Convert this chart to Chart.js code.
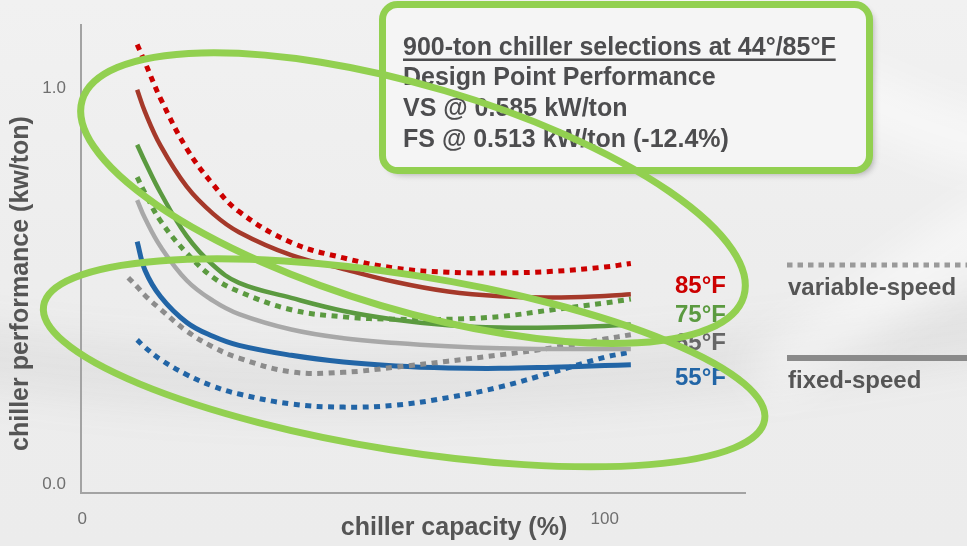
<!DOCTYPE html>
<html><head><meta charset="utf-8">
<script src="https://cdn.jsdelivr.net/npm/chart.js@4.4.1/dist/chart.umd.min.js"></script>
<style>html,body{margin:0;padding:0;background:#eeeeee;}canvas{display:block}</style>
</head><body>
<canvas id="c" width="967" height="546"></canvas>
<script>
// ---------- data ----------
const capacityPct     = [10.5, 12, 15, 20, 25, 30, 40, 50, 60, 70, 80, 90, 100, 105];
const capacityPct65VS = [8.8, 10.5, 12, 15, 20, 25, 30, 40, 50, 60, 70, 80, 90, 100, 105];

const vs85 = [1.111, 1.066, 0.974, 0.848, 0.758, 0.689, 0.611, 0.572, 0.546, 0.536, 0.534, 0.538, 0.549, 0.558];
const fs85 = [0.997, 0.941, 0.855, 0.752, 0.684, 0.637, 0.579, 0.544, 0.511, 0.487, 0.475, 0.472, 0.476, 0.480];
const vs75 = [0.776, 0.736, 0.665, 0.584, 0.523, 0.487, 0.441, 0.423, 0.417, 0.417, 0.424, 0.441, 0.458, 0.468];
const fs75 = [0.858, 0.815, 0.736, 0.627, 0.554, 0.509, 0.471, 0.438, 0.416, 0.402, 0.396, 0.396, 0.400, 0.404];
const vs65 = [0.522, 0.499, 0.477, 0.442, 0.387, 0.347, 0.319, 0.284, 0.283, 0.296, 0.311, 0.327, 0.345, 0.367, 0.378];
const fs65 = [0.718, 0.672, 0.600, 0.515, 0.464, 0.430, 0.391, 0.369, 0.357, 0.349, 0.344, 0.342, 0.342, 0.342];
const vs55 = [0.365, 0.346, 0.315, 0.277, 0.248, 0.228, 0.203, 0.195, 0.200, 0.219, 0.246, 0.283, 0.321, 0.334];
const fs55 = [0.613, 0.541, 0.474, 0.409, 0.374, 0.351, 0.326, 0.309, 0.299, 0.294, 0.293, 0.296, 0.300, 0.302];

const xTickValues = [0, 100];
const yTickValues = [0, 1];
const tempLabels = ['85°F', '75°F', '65°F', '55°F'];
const legendLabels = ['variable-speed', 'fixed-speed'];
const boxLines = ['900-ton chiller selections at 44°/85°F', 'Design Point Performance', 'VS @ 0.585 kW/ton', 'FS @ 0.513 kW/ton (-12.4%)'];
const xTitle = 'chiller capacity (%)';
const yTitle = 'chiller performance (kw/ton)';

// ---------- styles ----------
const FONT = '"Liberation Sans", Arial, Helvetica, sans-serif';
const C = {
  red: '#cc0000', brick: '#a5392a', green: '#5b9a40', graySolid: '#a8a8a8', grayDot: '#8c8c8c', blue: '#2265a6',
  hilite: '#92d050', text: '#4d4d4f', axis: '#a3a3a3', tick: '#6f6f6f'
};
const pts = (xs, ys) => ys.map((v, i) => ({x: xs[i], y: v}));
const dotted = (data, color) => ({data, borderColor: color, borderWidth: 5, borderDash: [6, 5.5], borderCapStyle: 'butt', pointRadius: 0, fill: false, tension: 0.4});
const solid = (data, color, w) => ({data, borderColor: color, borderWidth: w || 4.5, pointRadius: 0, fill: false, tension: 0.4});

// annotation geometry (centres in data units, radii in px)
const ellipses = [
  {cx: 63.3, cy: 0.723, a: 345, b: 112, rot: 16.5},
  {cx: 61.6, cy: 0.307, a: 365, b: 88, rot: 9}
];

const bgPlugin = {
  id: 'bg',
  beforeDraw(chart) {
    const {ctx, width, height} = chart;
    ctx.save();
    const g = ctx.createLinearGradient(0, 0, 0, height);
    g.addColorStop(0, '#f1f1f1'); g.addColorStop(0.5, '#ededed'); g.addColorStop(1, '#ececec');
    ctx.fillStyle = g; ctx.fillRect(0, 0, width, height);
    ctx.filter = 'blur(22px)';
    ctx.strokeStyle = 'rgba(110,110,110,0.10)'; ctx.lineWidth = 45;
    ctx.beginPath(); ctx.moveTo(-60, 350); ctx.quadraticCurveTo(420, 430, 1030, 320); ctx.stroke();
    ctx.strokeStyle = 'rgba(255,255,255,0.55)'; ctx.lineWidth = 50;
    ctx.beginPath(); ctx.moveTo(640, -30); ctx.quadraticCurveTo(860, 120, 1010, 150); ctx.stroke();
    ctx.beginPath(); ctx.moveTo(760, 380); ctx.quadraticCurveTo(880, 300, 1010, 210); ctx.stroke();
    ctx.filter = 'none';
    ctx.restore();
  }
};

function roundRect(ctx, x, y, w, h, r) {
  ctx.beginPath();
  ctx.moveTo(x + r, y); ctx.lineTo(x + w - r, y); ctx.arcTo(x + w, y, x + w, y + r, r);
  ctx.lineTo(x + w, y + h - r); ctx.arcTo(x + w, y + h, x + w - r, y + h, r);
  ctx.lineTo(x + r, y + h); ctx.arcTo(x, y + h, x, y + h - r, r);
  ctx.lineTo(x, y + r); ctx.arcTo(x, y, x + r, y, r); ctx.closePath();
}

const overlayPlugin = {
  id: 'overlay',
  afterDraw(chart) {
    const {ctx} = chart;
    const xs = chart.scales.x, ys = chart.scales.y;
    ctx.save();
    // info box
    roundRect(ctx, 382.5, 4.5, 487, 166, 15);
    ctx.shadowColor = 'rgba(0,0,0,0.28)'; ctx.shadowBlur = 6; ctx.shadowOffsetX = 4; ctx.shadowOffsetY = 4;
    ctx.fillStyle = '#f5f5f5'; ctx.fill();
    ctx.shadowColor = 'transparent';
    ctx.lineWidth = 7; ctx.strokeStyle = C.hilite; ctx.stroke();
    ctx.fillStyle = C.text; ctx.font = 'bold 25px ' + FONT; ctx.textAlign = 'left'; ctx.textBaseline = 'alphabetic';
    const base = [55, 85, 115.5, 146.5];
    boxLines.forEach((t, i) => ctx.fillText(t, 403, base[i]));
    const uw = ctx.measureText(boxLines[0]).width;
    ctx.fillRect(403, 58.5, uw, 2.5);

    // temperature labels
    const tc = [C.red, C.green, '#666666', C.blue];
    const tb = [293, 322, 350, 385];
    ctx.font = 'bold 24px ' + FONT;
    tempLabels.forEach((t, i) => { ctx.fillStyle = tc[i]; ctx.fillText(t, 675, tb[i]); });

    // legend
    ctx.strokeStyle = '#9a9a9a'; ctx.lineWidth = 5; ctx.setLineDash([5.5, 5]);
    ctx.beginPath(); ctx.moveTo(787, 265); ctx.lineTo(967, 265); ctx.stroke();
    ctx.setLineDash([]);
    ctx.strokeStyle = '#8a8a8a'; ctx.lineWidth = 6;
    ctx.beginPath(); ctx.moveTo(787, 358); ctx.lineTo(967, 358); ctx.stroke();
    ctx.fillStyle = '#555555'; ctx.font = 'bold 24px ' + FONT;
    ctx.fillText(legendLabels[0], 788, 295);
    ctx.fillText(legendLabels[1], 788, 388);

    // axis titles
    ctx.font = 'bold 25px ' + FONT; ctx.fillStyle = '#555555';
    ctx.textAlign = 'center'; ctx.textBaseline = 'middle';
    ctx.fillText(xTitle, 454, 528);
    ctx.save(); ctx.translate(21, 283.5); ctx.rotate(-Math.PI / 2); ctx.fillText(yTitle, 0, 0); ctx.restore();

    // highlight ellipses
    ctx.strokeStyle = C.hilite; ctx.lineWidth = 7;
    ellipses.forEach(e => {
      ctx.beginPath();
      ctx.ellipse(xs.getPixelForValue(e.cx), ys.getPixelForValue(e.cy), e.a, e.b, e.rot * Math.PI / 180, 0, Math.PI * 2);
      ctx.stroke();
    });
    ctx.restore();
  }
};

new Chart(document.getElementById('c'), {
  type: 'line',
  data: {
    datasets: [
      dotted(pts(capacityPct, vs85), C.red),
      solid(pts(capacityPct, fs85), C.brick),
      dotted(pts(capacityPct, vs75), C.green),
      solid(pts(capacityPct, fs75), C.green),
      solid(pts(capacityPct, fs65), C.graySolid),
      dotted(pts(capacityPct65VS, vs65), C.grayDot),
      solid(pts(capacityPct, fs55), C.blue, 5),
      dotted(pts(capacityPct, vs55), C.blue)
    ]
  },
  options: {
    responsive: false, animation: false, devicePixelRatio: 1,
    layout: {padding: {left: 0, right: 222, top: 23.5, bottom: 0}},
    plugins: {legend: {display: false}, tooltip: {enabled: false}},
    scales: {
      x: {
        type: 'linear', min: -0.25, max: 126.85,
        afterBuildTicks: s => { s.ticks = xTickValues.map(v => ({value: v})); },
        afterFit: s => { s.height = 53; },
        grid: {color: 'rgba(0,0,0,0)', drawTicks: false},
        border: {display: true, color: C.axis, width: 2},
        ticks: {autoSkip: false, maxRotation: 0, padding: 16, color: C.tick, font: {family: FONT, size: 17}, callback: v => String(v)}
      },
      y: {
        type: 'linear', min: -0.022, max: 1.16,
        afterBuildTicks: s => { s.ticks = yTickValues.map(v => ({value: v})); },
        afterFit: s => { s.width = 81; },
        grid: {color: 'rgba(0,0,0,0)', drawTicks: false},
        border: {display: true, color: C.axis, width: 2},
        ticks: {autoSkip: false, padding: 15, color: C.tick, font: {family: FONT, size: 17}, callback: v => Number(v).toFixed(1)}
      }
    }
  },
  plugins: [bgPlugin, overlayPlugin]
});
</script>
</body></html>
